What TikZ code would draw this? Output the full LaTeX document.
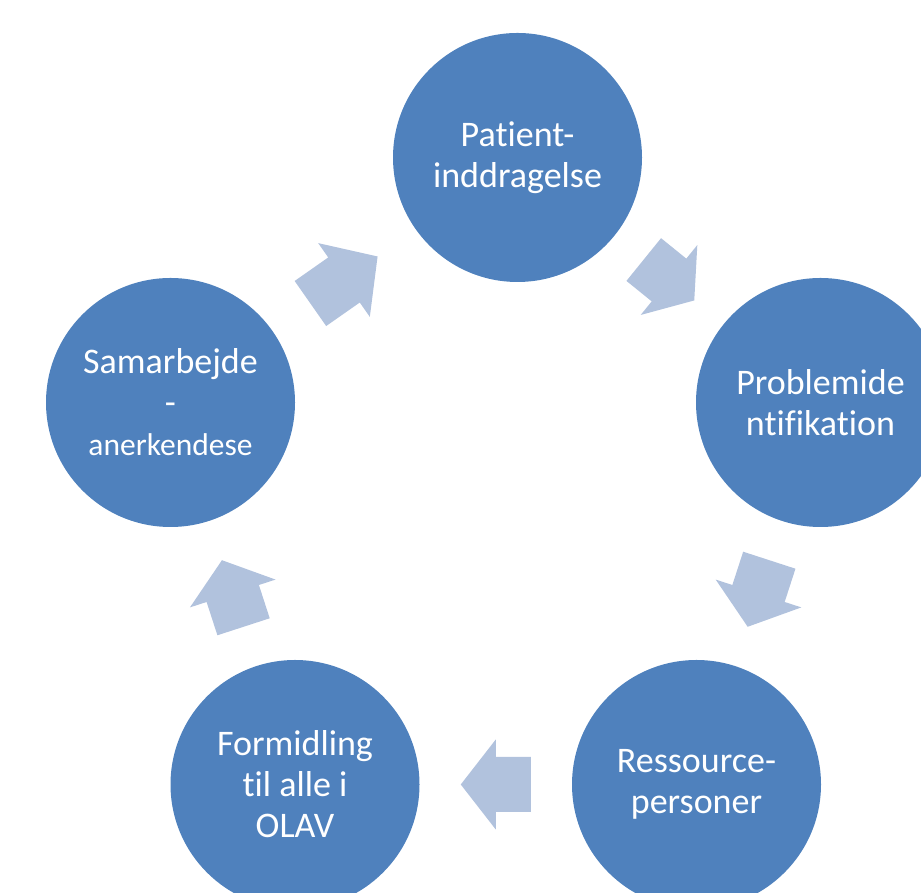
\documentclass[tikz,border=0pt]{standalone}
\usepackage{fontspec}
\setmainfont{Carlito}[Ligatures={NoCommon,NoContextual}]
\usepackage{tikz}
\usetikzlibrary{calc}

\definecolor{stageblue}{RGB}{79,129,189}
\definecolor{arrowblue}{RGB}{177,194,221}

\tikzset{
  stage/.style={circle, fill=stageblue, minimum size=249pt, inner sep=0pt,
    text=white, align=center, font=\fontsize{36}{41}\selectfont},
  flowarrow/.style={fill=arrowblue}
}

% block arrow halfway between two stages: from, to, angle, length
\newcommand{\cyclearrow}[4]{%
  \fill[flowarrow, shift={($(#1)!0.5!(#2)$)}, rotate=#3]
    (-#4/2,-27.5) -- (0,-27.5) -- (0,-45) -- (#4/2,0)
    -- (0,45) -- (0,27.5) -- (-#4/2,27.5) -- cycle;}

\begin{document}
\begin{tikzpicture}[x=1pt, y=1pt]
        \useasboundingbox (0,0) rectangle (921,893);
        \clip (0,0) rectangle (921,893);

        \node [stage] (patient) at (517.5,735.5) {Patient-\\inddragelse};
        \node [stage] (problem) at (820.5,490.5) {Problemide\\ntifikation};
        \node [stage] (ressource) at (696.5,108.5) {Ressource-\\personer};
        \node [stage] (formidling) at (295,108.5) {Formidling\\til alle i\\OLAV};
        \node [stage] (samarbejde) at (170.5,490.5)
          {Samarbejde\\-\\{\fontsize{31.5}{41}\selectfont anerkendese}};

        \cyclearrow{samarbejde}{patient}{35}{82}
        \cyclearrow{patient}{problem}{-39}{65}
        \cyclearrow{problem}{ressource}{-108}{70}
        \cyclearrow{ressource}{formidling}{180}{70}
        \cyclearrow{formidling}{samarbejde}{108}{70}

    \end{tikzpicture}
\end{document}
